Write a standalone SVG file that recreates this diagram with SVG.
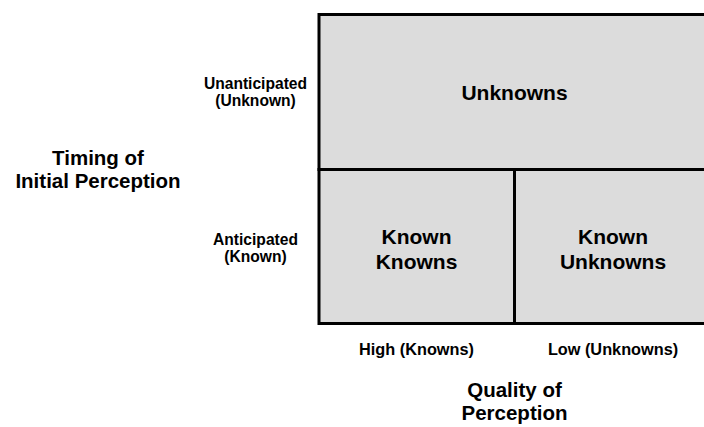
<svg xmlns="http://www.w3.org/2000/svg" width="704" height="427" viewBox="0 0 704 427">
  <style>
    text { font-family: "Liberation Sans", Arial, sans-serif; font-weight: bold; fill: #000; text-anchor: middle; }
    .cell { fill: #dcdcdc; stroke: #000; stroke-width: 3; }
    .big { font-size: 21px; }
    .axis { font-size: 20.5px; }
    .tick { font-size: 15.6px; }
    .tick2 { font-size: 16.3px; }
  </style>
  <!-- quadrant cells -->
  <g id="unknowns">
    <rect class="cell" x="319" y="14.5" width="400" height="155"/>
    <text class="big" x="514.5" y="100">Unknowns</text>
  </g>
  <g id="known-knowns">
    <rect class="cell" x="319" y="169.5" width="195.5" height="154"/>
    <text class="big" x="416.5" y="243.5">Known</text>
    <text class="big" x="416.5" y="268.5">Knowns</text>
  </g>
  <g id="known-unknowns">
    <rect class="cell" x="514.5" y="169.5" width="204.5" height="154"/>
    <text class="big" x="613" y="243.5">Known</text>
    <text class="big" x="613" y="268.5">Unknowns</text>
  </g>
  <!-- vertical axis labels -->
  <g id="y-axis">
    <text class="tick" x="255.5" y="89">Unanticipated</text>
    <text class="tick" x="255.5" y="106">(Unknown)</text>
    <text class="tick" x="255.5" y="245">Anticipated</text>
    <text class="tick" x="255.5" y="262">(Known)</text>
    <text class="axis" x="98" y="164.5">Timing of</text>
    <text class="axis" x="98" y="187.5">Initial Perception</text>
  </g>
  <!-- horizontal axis labels -->
  <g id="x-axis">
    <text class="tick2" x="416.5" y="355">High (Knowns)</text>
    <text class="tick2" x="613" y="355">Low (Unknowns)</text>
    <text class="axis" x="514.5" y="397">Quality of</text>
    <text class="axis" x="514.5" y="420">Perception</text>
  </g>
</svg>
